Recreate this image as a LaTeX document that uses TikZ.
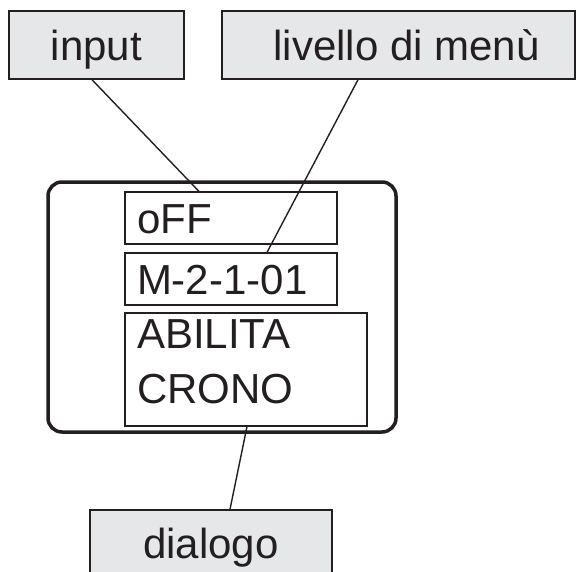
\documentclass[tikz,border=0pt]{standalone}
\usepackage{fontspec}
\setmainfont{Liberation Sans}
\definecolor{tratto}{HTML}{231F20}
\definecolor{fondo}{HTML}{E6E7E8}

\begin{document}
\begin{tikzpicture}[
			x=1pt, y=-1pt,
			every node/.style={font=\fontsize{42}{55}\selectfont, text=tratto, inner sep=0pt, text height=30pt, text depth=0pt},
			etichetta/.style={draw=tratto, fill=fondo, line width=1.4pt},
			campo/.style={draw=tratto, line width=1.2pt, align=left, inner xsep=12pt},
			linea/.style={draw=tratto, line width=1.4pt}
			]

				\useasboundingbox (0,0) rectangle (576,571);

				% display
				\node[draw=tratto, line width=3.5pt, rounded corners=14pt, minimum width=348pt, minimum height=250pt] (display) at (222,307) {};
				\node[campo, text width=188pt, minimum height=52pt] (stato) at (231,218) {oFF};
				\node[campo, text width=188pt, minimum height=52pt] (codice) at (231,279) {M-2-1-01};
				\node[campo, text width=218pt, minimum height=113pt, text depth=73pt] (testo) at (246,369.5) {ABILITA\\CRONO};

				% etichette
				\node[etichetta, minimum width=175pt, minimum height=68pt] (input) at (96.5,45) {input\hspace{14pt}};
				\node[etichetta, minimum width=353pt, minimum height=68pt] (livello) at (398.5,45) {\hspace{16pt}livello di menù};
				\node[etichetta, minimum width=242pt, minimum height=66pt] (dialogo) at (211,543) {dialogo\hspace{12pt}};

				\draw[linea] ([xshift=-4.5pt]input.south) -- ([xshift=-32pt]stato.north);
				\draw[linea] ([xshift=-40.5pt]livello.south) -- ([xshift=36pt]codice.north);
				\draw[linea] ([xshift=1pt]testo.south) -- ([xshift=19pt]dialogo.north);

			\end{tikzpicture}
\end{document}
